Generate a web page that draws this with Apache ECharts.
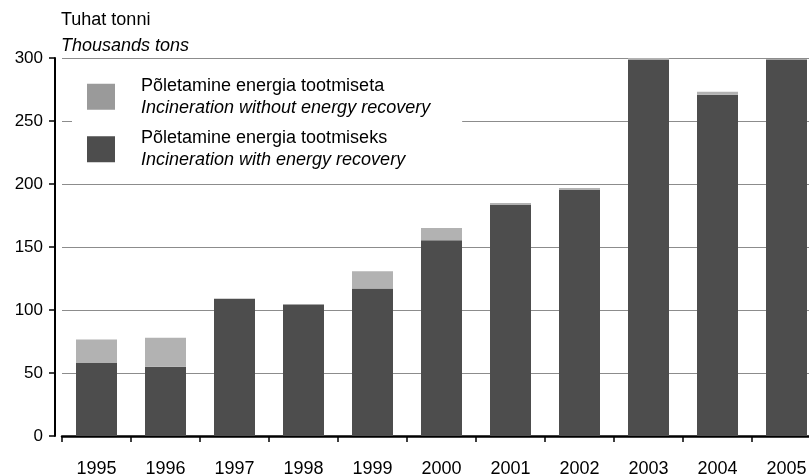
<!DOCTYPE html>
<html><head><meta charset="utf-8">
<script src="https://cdn.jsdelivr.net/npm/echarts@6/dist/echarts.min.js"></script>
<style>html,body{margin:0;padding:0;background:#fff}#c{width:809px;height:475px}</style>
</head><body><div id="c"></div>
<script>
const years = ['1995','1996','1997','1998','1999','2000','2001','2002','2003','2004','2005'];
const withRecovery = [58, 55, 109, 104.4, 117, 155.4, 183.3, 195.2, 298.8, 270.9, 298.8];
const withoutRecovery = [18.5, 23, 0, 0, 13.7, 9.6, 1.6, 1.6, 1.6, 2.4, 0];
const yTicks = [0, 50, 100, 150, 200, 250, 300];
const nameWith = 'Põletamine energia tootmiseks';
const nameWithEn = 'Incineration with energy recovery';
const nameWithout = 'Põletamine energia tootmiseta';
const nameWithoutEn = 'Incineration without energy recovery';

const chart = echarts.init(document.getElementById('c'), null, {renderer: 'canvas'});
const font = 'Liberation Sans, Arial, sans-serif';
const legendNames = {};
legendNames[nameWithout] = nameWithoutEn;
legendNames[nameWith] = nameWithEn;
chart.setOption({
  animation: false,
  backgroundColor: '#fff',
  textStyle: {fontFamily: font},
  title: {
    left: 61, top: 8, padding: 0,
    text: '{a|Tuhat tonni}\n{b|Thousands tons}',
    textStyle: {
      fontWeight: 'normal',
      rich: {
        a: {fontFamily: font, fontSize: 18, fontWeight: 'normal', color: '#000', lineHeight: 25},
        b: {fontFamily: font, fontSize: 18, fontWeight: 'normal', fontStyle: 'italic', color: '#000', lineHeight: 25}
      }
    }
  },
  legend: {
    orient: 'vertical',
    left: 72, top: 71,
    padding: [6, 32, 6, 15],
    backgroundColor: '#fff',
    itemWidth: 28, itemHeight: 26, itemGap: 13,
    icon: 'rect',
    data: [
      {name: nameWithout, itemStyle: {color: '#9a9a9a'}},
      {name: nameWith, itemStyle: {color: '#4d4d4d'}}
    ],
    formatter: function (n) { return '{a|' + n + '}\n{b|' + legendNames[n] + '}'; },
    textStyle: {
      padding: [0, 0, 0, 21],
      rich: {
        a: {fontFamily: font, fontSize: 18, color: '#000', lineHeight: 21.5},
        b: {fontFamily: font, fontSize: 18, fontStyle: 'italic', color: '#000', lineHeight: 21.5}
      }
    }
  },
  grid: {left: 62, width: 759, top: 58, bottom: 39, containLabel: false, outerBoundsMode: 'none'},
  xAxis: {
    type: 'category',
    data: years,
    offset: 9,
    axisLine: {show: true, lineStyle: {color: '#000', width: 2.5}},
    axisTick: {show: true, length: 6, lineStyle: {color: '#000', width: 1.5}, interval: 0},
    axisLabel: {color: '#000', fontSize: 18, fontFamily: font, margin: 15, interval: 0}
  },
  yAxis: {
    type: 'value',
    min: 0, max: 300, interval: 50,
    offset: 7,
    axisLine: {show: true, lineStyle: {color: '#000', width: 2}},
    axisTick: {show: true, length: 6, lineStyle: {color: '#000', width: 1.5}},
    axisLabel: {color: '#000', fontSize: 17, fontFamily: font, margin: 12,
      formatter: function (v) { return yTicks.indexOf(v) >= 0 ? String(v) : ''; }},
    splitLine: {show: true, lineStyle: {color: '#8c8c8c', width: 1.2}}
  },
  series: [
    {name: nameWith, type: 'bar', stack: 't', barWidth: 41, data: withRecovery,
      itemStyle: {color: '#4d4d4d'}},
    {name: nameWithout, type: 'bar', stack: 't', barWidth: 41, data: withoutRecovery,
      itemStyle: {color: '#b2b2b2'}}
  ]
});
</script></body></html>
